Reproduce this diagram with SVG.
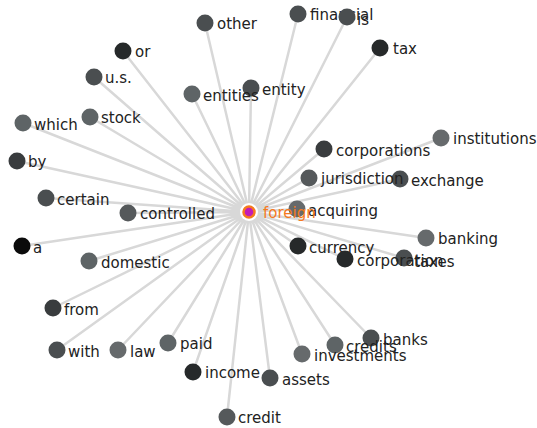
<svg xmlns="http://www.w3.org/2000/svg" width="537" height="428" viewBox="0 0 537 428">
<style>
.e{stroke:#d8d8d8;stroke-width:2.5;fill:none}
.n circle{stroke:none}
text{font-family:"DejaVu Sans","Liberation Sans",sans-serif;font-size:15px;fill:#222}
.c1{fill:#0b0b0b}.c2{fill:#26292a}.c3{fill:#393c3e}.c4{fill:#4a4e50}.c5{fill:#55595b}.c6{fill:#5e6466}.c7{fill:#666a6c}
</style>
<rect width="537" height="428" fill="#fff"/>
<g id="edges">
<path class="e" d="M249 212L205 23M249 212L123 51M249 212L94 77M249 212L192 94M249 212L251 88M249 212L23 123M249 212L90 117M249 212L298 14M249 212L347 17M249 212L380 48M249 212L441 138M249 212L324 149M249 212L309 178M249 212L400 179M249 212L297 209M249 212L426 238M249 212L298 246M249 212L345 259M249 212L404 258M249 212L17 161M249 212L46 198M249 212L128 213M249 212L22 246M249 212L89 261M249 212L53 308M249 212L57 350M249 212L118 350M249 212L168 343M249 212L193 372M249 212L227 417M249 212L270 378M249 212L302 354M249 212L335 345M249 212L371 338"/>
</g>
<g id="n-other" class="n"><circle class="c4" cx="205" cy="23" r="8.5"/><text x="217" y="29">other</text></g>
<g id="n-or" class="n"><circle class="c2" cx="123" cy="51" r="8.5"/><text x="135" y="57">or</text></g>
<g id="n-us" class="n"><circle class="c4" cx="94" cy="77" r="8.5"/><text x="105" y="83">u.s.</text></g>
<g id="n-entity" class="n"><circle class="c4" cx="251" cy="88" r="8.5"/><text x="262" y="95">entity</text></g>
<g id="n-entities" class="n"><circle class="c6" cx="192" cy="94" r="8.5"/><text x="203" y="101">entities</text></g>
<g id="n-which" class="n"><circle class="c6" cx="23" cy="123" r="8.5"/><text x="34" y="130">which</text></g>
<g id="n-stock" class="n"><circle class="c6" cx="90" cy="117" r="8.5"/><text x="101" y="123">stock</text></g>
<g id="n-financial" class="n"><circle class="c4" cx="298" cy="14" r="8.5"/><text x="310" y="20">financial</text></g>
<g id="n-is" class="n"><circle class="c4" cx="347" cy="17" r="8.5"/><text x="357" y="25">is</text></g>
<g id="n-tax" class="n"><circle class="c2" cx="380" cy="48" r="8.5"/><text x="393" y="54">tax</text></g>
<g id="n-institutions" class="n"><circle class="c7" cx="441" cy="138" r="8.5"/><text x="453" y="144">institutions</text></g>
<g id="n-corporations" class="n"><circle class="c3" cx="324" cy="149" r="8.5"/><text x="336" y="156">corporations</text></g>
<g id="n-exchange" class="n"><circle class="c4" cx="400" cy="179" r="8.5"/><text x="411" y="186">exchange</text></g>
<g id="n-jurisdiction" class="n"><circle class="c5" cx="309" cy="178" r="8.5"/><text x="321" y="184">jurisdiction</text></g>
<g id="n-acquiring" class="n"><circle class="c7" cx="297" cy="209" r="8.5"/><text x="308" y="216">acquiring</text></g>
<g id="n-banking" class="n"><circle class="c7" cx="426" cy="238" r="8.5"/><text x="438" y="244">banking</text></g>
<g id="n-currency" class="n"><circle class="c2" cx="298" cy="246" r="8.5"/><text x="309" y="253">currency</text></g>
<g id="n-taxes" class="n"><circle class="c4" cx="404" cy="258" r="8.5"/><text x="414" y="267">taxes</text></g>
<g id="n-corporation" class="n"><circle class="c2" cx="345" cy="259" r="8.5"/><text x="357" y="266">corporation</text></g>
<g id="n-by" class="n"><circle class="c3" cx="17" cy="161" r="8.5"/><text x="28" y="167">by</text></g>
<g id="n-certain" class="n"><circle class="c4" cx="46" cy="198" r="8.5"/><text x="57" y="205">certain</text></g>
<g id="n-controlled" class="n"><circle class="c5" cx="128" cy="213" r="8.5"/><text x="140" y="219">controlled</text></g>
<g id="n-a" class="n"><circle class="c1" cx="22" cy="246" r="8.5"/><text x="33" y="253">a</text></g>
<g id="n-domestic" class="n"><circle class="c6" cx="89" cy="261" r="8.5"/><text x="101" y="268">domestic</text></g>
<g id="n-from" class="n"><circle class="c3" cx="53" cy="308" r="8.5"/><text x="64" y="315">from</text></g>
<g id="n-with" class="n"><circle class="c4" cx="57" cy="350" r="8.5"/><text x="68" y="357">with</text></g>
<g id="n-law" class="n"><circle class="c7" cx="118" cy="350" r="8.5"/><text x="130" y="357">law</text></g>
<g id="n-paid" class="n"><circle class="c6" cx="168" cy="343" r="8.5"/><text x="180" y="349">paid</text></g>
<g id="n-income" class="n"><circle class="c2" cx="193" cy="372" r="8.5"/><text x="205" y="378">income</text></g>
<g id="n-credit" class="n"><circle class="c5" cx="227" cy="417" r="8.5"/><text x="238" y="423">credit</text></g>
<g id="n-assets" class="n"><circle class="c4" cx="270" cy="378" r="8.5"/><text x="282" y="385">assets</text></g>
<g id="n-banks" class="n"><circle class="c4" cx="371" cy="338" r="8.5"/><text x="383" y="345">banks</text></g>
<g id="n-credits" class="n"><circle class="c6" cx="335" cy="345" r="8.5"/><text x="346" y="352">credits</text></g>
<g id="n-investments" class="n"><circle class="c7" cx="302" cy="354" r="8.5"/><text x="314" y="361">investments</text></g>
<g id="n-foreign"><circle cx="249" cy="212" r="9" fill="#fff"/><circle cx="249" cy="212" r="5.5" fill="#c21bb8" stroke="#f57a1e" stroke-width="2.5"/><text x="263" y="218" style="fill:#f57a1e">foreign</text></g>
</svg>
